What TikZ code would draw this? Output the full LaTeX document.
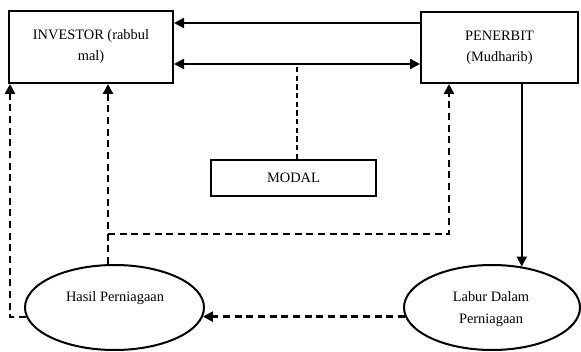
\documentclass[tikz,border=0pt]{standalone}
\usepackage{fontspec}
\setmainfont{Liberation Serif}
\usetikzlibrary{arrows.meta}
\usetikzlibrary{shapes.geometric}

\begin{document}
\begin{tikzpicture}[x=0.75pt,y=-0.75pt,
    kotak/.style={draw,line width=1.5pt,align=center,font=\fontsize{10.8}{15.75}\selectfont},
    oval/.style={draw,ellipse,line width=1.5pt,minimum height=63.75pt},
    teks/.style={align=center,font=\fontsize{10.8}{16.5}\selectfont},
    panah/.style={line width=1.8pt,-{Triangle[length=7.5pt,width=7.5pt]}},
    panahdua/.style={line width=1.8pt,{Triangle[length=7.5pt,width=7.5pt]}-{Triangle[length=7.5pt,width=7.5pt]}},
    putus/.style={line width=1.8pt,dash pattern=on 5.25pt off 3.5pt,-{Triangle[length=7.5pt,width=7.5pt]}},
    putustipis/.style={line width=1.4pt,dash pattern=on 4pt off 2.5pt}]
    \useasboundingbox (0,0) rectangle (581,352);

    % kotak dan oval
    \node[kotak,minimum width=123pt,minimum height=54pt] (investor) at (91,47) {INVESTOR (rabbul\\mal)};
    \node[kotak,minimum width=117.75pt,minimum height=53.25pt] (penerbit) at (499.5,47.5) {PENERBIT\\(Mudharib)};
    \node[kotak,minimum width=123.75pt,minimum height=27pt] (modal) at (293.5,178) {MODAL};
    \node[oval,minimum width=134.25pt] (hasil) at (114.5,307.5) {};
    \node[oval,minimum width=132pt] (labur) at (492,307.5) {};
    \node[teks] (hasil-teks) at (115,298) {Hasil Perniagaan};
    \node[teks] (labur-teks) at (491,309) {Labur Dalam\\Perniagaan};

    % titik bantu
    \coordinate (atas) at ([yshift=-9pt]penerbit.north west);
    \coordinate (tengah) at ([yshift=15pt]penerbit.south west);
    \coordinate (m) at ([xshift=2.6pt]modal.north);
    \coordinate (kiri) at ([xshift=12.75pt]investor.south);
    \coordinate (belok) at (108,234);

    % panah
    \draw[panah] (atas) -- (atas -| investor.east);
    \draw[panahdua] (tengah -| investor.east) -- (tengah);
    \draw[putustipis] (m) -- (m |- tengah);
    \draw[panah] (labur.54 |- penerbit.south) -- (labur.54);
    \draw[putus] (labur.186) -- (labur.186 -| hasil.354);
    \draw[putus] (hasil.186) -| ([xshift=1.5pt]investor.south west);
    \draw[putus] (kiri |- hasil.north) -- (kiri);
    \draw[putus] (belok) -| ([xshift=21.75pt]penerbit.south west);
\end{tikzpicture}
\end{document}
